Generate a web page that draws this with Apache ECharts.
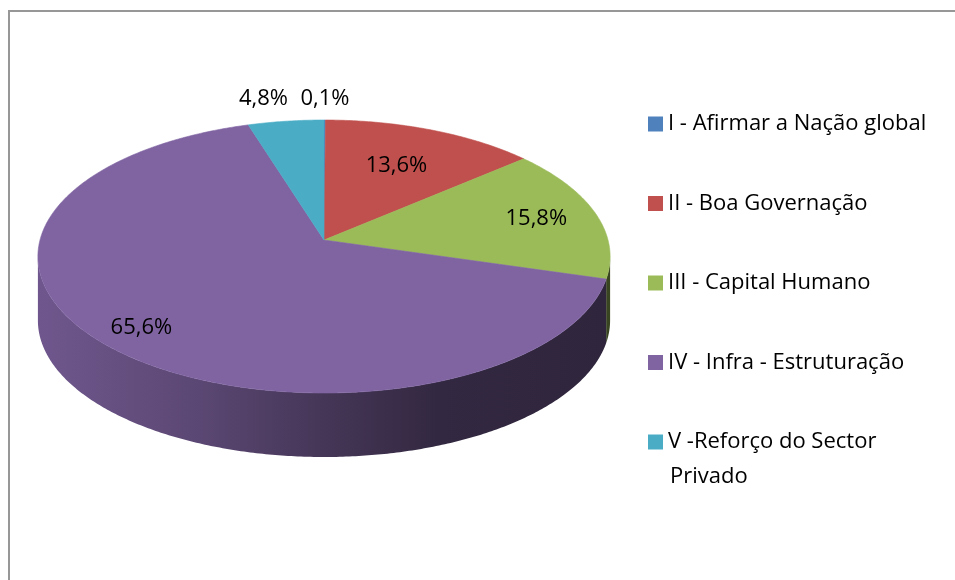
<!DOCTYPE html>
<html>
<head>
<meta charset="utf-8">
<script src="https://cdn.jsdelivr.net/npm/echarts@6/dist/echarts.min.js"></script>
<style>
  html, body { margin: 0; padding: 0; background: #fff; }
  #chart { width: 955px; height: 580px; }
</style>
</head>
<body>
<div id="chart"></div>
<script>
// dados do gráfico
var categorias = ['I - Afirmar a Nação global', 'II - Boa Governação', 'III - Capital Humano', 'IV - Infra - Estruturação', 'V -Reforço do Sector Privado'];
var valores = [0.1, 13.6, 15.8, 65.6, 4.8];
var cores = ['#4f81bd', '#c0504d', '#9bbb59', '#8064a2', '#4bacc6'];

// geometria da pizza 3D (perspectiva simples)
var CX = 324, CY = 240, RX = 284, RY = 134.5, PERSP = 0.121, DEPTH = 64;
var labelR = [1.2, 0.65, 0.78, 0.85, 1.22];
var labelDx = [0, 0, 0, 0, -15];
var FONT = 'Open Sans';
var FSIZE = 22;

var total = valores.reduce(function (a, b) { return a + b; }, 0);

function proj(phi, r) {
    var u = r * Math.sin(phi), v = -r * Math.cos(phi);
    var k = 1 / (1 - PERSP * v);
    return [CX + RX * u * k, CY + RY * v * k];
}

function shade(hex, f) {
    var n = parseInt(hex.slice(1), 16);
    var r = Math.round(((n >> 16) & 255) * f),
        g = Math.round(((n >> 8) & 255) * f),
        b = Math.round((n & 255) * f);
    return 'rgb(' + r + ',' + g + ',' + b + ')';
}

function arc(a0, a1, dy) {
    var pts = [];
    var n = Math.max(2, Math.ceil((a1 - a0) / 0.01));
    for (var j = 0; j <= n; j++) {
        var p = proj(a0 + (a1 - a0) * j / n, 1);
        pts.push([p[0], p[1] + dy]);
    }
    return pts;
}

function makeRender(i) {
    return function (params, api) {
        var before = 0;
        for (var k = 0; k < i; k++) before += valores[k];
        var a0 = before / total * Math.PI * 2;
        var a1 = (before + api.value(0)) / total * Math.PI * 2;
        var cor = cores[i];
        var children = [];

        // parede lateral visível
        var visA = Math.acos(-PERSP), visB = Math.PI * 2 - Math.acos(-PERSP);
        var s = Math.max(a0, visA), e = Math.min(a1, visB);
        if (e > s) {
            var top = arc(s, e, 0);
            var bot = arc(s, e, DEPTH).reverse();
            children.push({
                type: 'polygon',
                z2: 1,
                shape: { points: top.concat(bot) },
                style: {
                    fill: {
                        type: 'linear', global: true,
                        x: CX - RX, y: 0, x2: CX + RX, y2: 0,
                        colorStops: [
                            { offset: 0, color: shade(cor, 0.87) },
                            { offset: 0.28, color: shade(cor, 0.71) },
                            { offset: 0.5, color: shade(cor, 0.54) },
                            { offset: 0.7, color: shade(cor, 0.40) },
                            { offset: 1, color: shade(cor, 0.37) }
                        ]
                    },
                    stroke: null
                }
            });
        }

        // face superior
        children.push({
            type: 'polygon',
            z2: 10,
            shape: { points: [[CX, CY]].concat(arc(a0, a1, 0)) },
            style: { fill: cor, stroke: cor, lineWidth: 0.6 }
        });

        // rótulo
        var mid = (a0 + a1) / 2;
        var lp = proj(mid, labelR[i]);
        children.push({
            type: 'text',
            z2: 20,
            x: lp[0] + labelDx[i],
            y: lp[1],
            style: {
                text: api.value(0).toFixed(1).replace('.', ',') + '%',
                fill: '#000',
                font: FSIZE + 'px "' + FONT + '"',
                align: 'center',
                verticalAlign: 'middle'
            }
        });
        return { type: 'group', children: children };
    };
}

var chart = echarts.init(document.getElementById('chart'));

var series = categorias.map(function (c, i) {
    return {
        type: 'custom',
        name: c,
        coordinateSystem: 'none',
        silent: true,
        itemStyle: { color: cores[i] },
        data: [valores[i]],
        renderItem: makeRender(i)
    };
});

chart.setOption({
    backgroundColor: '#fff',
    animation: false,
    graphic: [{
        type: 'rect',
        shape: { x: 9, y: 11, width: 1000, height: 1000 },
        style: { fill: null, stroke: '#979797', lineWidth: 2 }
    }, {
        // segunda linha da última entrada da legenda
        type: 'text',
        left: 670,
        top: 476 - FSIZE / 2 + 1,
        style: { text: 'Privado', fill: '#000', font: FSIZE + 'px "' + FONT + '"' }
    }],
    legend: {
        orient: 'vertical',
        left: 648,
        top: 113,
        height: 460,
        padding: 0,
        itemWidth: 15,
        itemHeight: 15,
        itemGap: 57.5,
        icon: 'rect',
        selectedMode: false,
        textStyle: { fontFamily: FONT, fontSize: FSIZE, color: '#000', lineHeight: 22 },
        formatter: function (name) { return name.replace(' Privado', ''); },
        data: categorias
    },
    series: series
});
</script>
</body>
</html>
